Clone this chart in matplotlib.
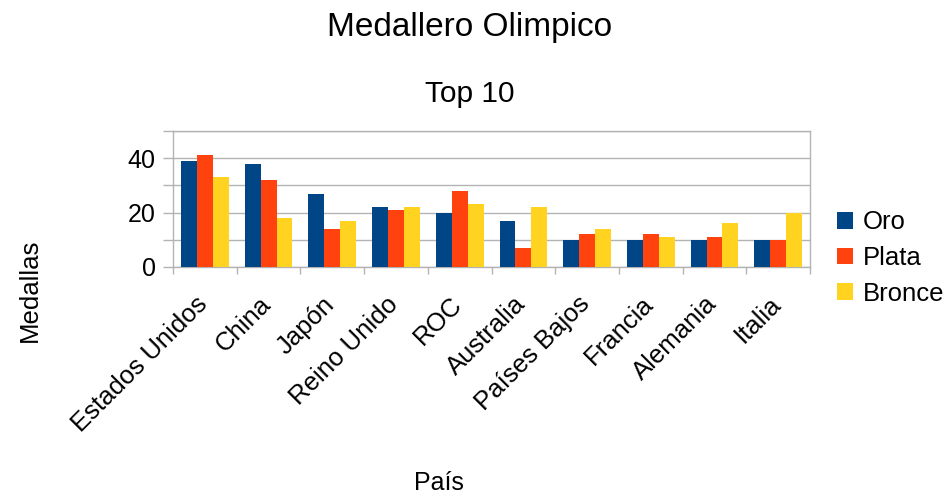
import matplotlib
matplotlib.use("Agg")
import matplotlib.pyplot as plt
from matplotlib.transforms import ScaledTranslation
import numpy as np

plt.rcParams['font.family'] = ['Liberation Sans', 'DejaVu Sans']

paises = ["Estados Unidos", "China", "Japón", "Reino Unido", "ROC", "Australia",
          "Países Bajos", "Francia", "Alemania", "Italia"]
oro = [39, 38, 27, 22, 20, 17, 10, 10, 10, 10]
plata = [41, 32, 14, 21, 28, 7, 12, 12, 11, 10]
bronce = [33, 18, 17, 22, 23, 22, 14, 11, 16, 20]

series = [("Oro", oro, "#004586"), ("Plata", plata, "#ff420e"), ("Bronce", bronce, "#ffd320")]
gris = '#b3b3b3'

fig = plt.figure(figsize=(9.48, 4.96), dpi=100)
ax = fig.add_axes([0.1825, 0.4617, 0.6720, 0.2742])

x = np.arange(len(paises))
w = 0.25
for i, (nombre, vals, color) in enumerate(series):
    ax.bar(x + (i - 1) * w, vals, width=w, color=color, label=nombre, zorder=3)

ax.set_xlim(-0.5, len(paises) - 0.5)
ax.set_ylim(0, 50)
ax.set_yticks([0, 20, 40])
ax.set_yticks([10, 30, 50], minor=True)
ax.grid(axis='y', which='both', color=gris, linewidth=1.0, zorder=0)

ax.set_xticks(x)
ax.set_xticklabels(paises, rotation=45, ha='right', va='top', rotation_mode='anchor',
                   fontsize=18.5)
ax.set_xticks(np.arange(len(paises) + 1) - 0.5, minor=True)
ax.tick_params(axis='x', which='major', length=0, pad=18)
ax.tick_params(axis='x', which='minor', length=5, color=gris, width=1.0)
ax.tick_params(axis='y', which='both', length=7.5, color=gris, width=1.0, labelsize=18, pad=5)

# nudge the rotated category labels slightly to the left
desplazamiento = ScaledTranslation(-7 / 72, 0, fig.dpi_scale_trans)
for etiqueta in ax.get_xticklabels():
    etiqueta.set_transform(etiqueta.get_transform() + desplazamiento)

for side in ['left', 'right', 'top', 'bottom']:
    ax.spines[side].set_color(gris)
    ax.spines[side].set_linewidth(1.0)

fig.text(0.495, 0.944, "Medallero Olimpico", ha='center', va='center', fontsize=24)
fig.text(0.495, 0.810, "Top 10", ha='center', va='center', fontsize=21.5)
fig.text(0.032, 0.415, "Medallas", ha='center', va='center', rotation=90, fontsize=18.5)
fig.text(0.463, 0.026, "País", ha='center', va='center', fontsize=18)

leg = ax.legend(loc='center left', bbox_to_anchor=(837 / 948, 1 - 258 / 496),
                bbox_transform=fig.transFigure, frameon=False, borderpad=0,
                borderaxespad=0, fontsize=18.5, handlelength=0.62, handleheight=0.62,
                handletextpad=0.4, labelspacing=0.45)

fig.savefig("out.png", dpi=100)
